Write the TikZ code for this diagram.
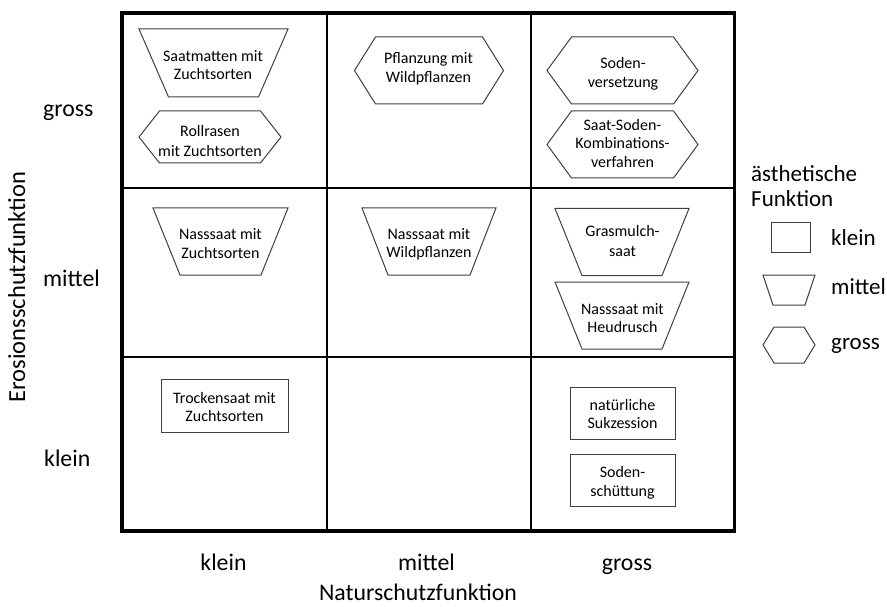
\documentclass[tikz,border=0pt]{standalone}
\usepackage{fontspec}
\setmainfont{Carlito}
\begin{document}
\begin{tikzpicture}[x=1pt,y=-1pt,
  shp/.style={draw=black!75, line width=1pt, line join=miter},
  lbl/.style={font=\fontsize{16}{18.5}\selectfont, align=center, inner sep=0pt},
  big/.style={font=\fontsize{23.8}{27}\selectfont, inner sep=0pt},
  leg/.style={font=\fontsize{23}{27}\selectfont, inner sep=0pt, anchor=base west},
  gridline/.style={line width=1.8pt},
  frameline/.style={line width=3.2pt},
  pics/trap/.style n args={3}{code={\draw[shp] (-#1,-#3)--(#1,-#3)--(#2,#3)--(-#2,#3)--cycle;}},
  pics/hexa/.style n args={3}{code={\draw[shp] (-#1,0)--(-#2,-#3)--(#2,-#3)--(#1,0)--(#2,#3)--(-#2,#3)--cycle;}},
  pics/rbox/.style n args={2}{code={\draw[shp] (-#1,-#2) rectangle (#1,#2);}},
]
\useasboundingbox (0,0) rectangle (887,607);
\fill[white] (0,0) rectangle (887,607);

% grid
\draw[gridline] (327,13)--(327,531) (531,13)--(531,531)
  (122,188)--(734.5,188) (122,357)--(734.5,357);
\draw[frameline] (122,13) rectangle (734.5,531);

% shapes
\pic at (213.5,63) {trap={74.5}{45}{34}};
\pic at (210,137) {hexa={71}{50.5}{26}};
\pic at (429,70.5) {hexa={74.5}{53.5}{33.5}};
\pic at (622.5,70.5) {hexa={75.5}{51}{33.5}};
\pic at (622.5,144.5) {hexa={75.5}{51}{33.5}};
\pic at (220.5,241.5) {trap={67.5}{40.5}{33.5}};
\pic at (429,241.5) {trap={67}{41}{33.5}};
\pic at (622,242) {trap={67}{40}{33.5}};
\pic at (622,315.5) {trap={67}{40}{33.5}};
\pic at (224.5,405.5) {rbox={63.5}{26.5}};
\pic at (622.5,413) {rbox={52.5}{26}};
\pic at (622.5,480) {rbox={52.5}{26}};

% texts in shapes
\node[lbl] (saatmatten) at (213,65) {Saatmatten mit\\Zuchtsorten};
\node[lbl, font=\fontsize{16}{20.5}\selectfont] (rollrasen) at (210,141) {Rollrasen\\mit Zuchtsorten};
\node[lbl] (pflanzung) at (428.5,69) {Pflanzung mit\\Wildpflanzen};
\node[lbl, font=\fontsize{16}{19.5}\selectfont] (sodenvers) at (623,74) {Soden-\\versetzung};
\node[lbl] (saatsoden) at (622.5,143.5) {Saat-Soden-\\Kombinations-\\verfahren};
\node[lbl] (nasszucht) at (220.5,243.5) {Nasssaat mit\\Zuchtsorten};
\node[lbl] (nasswild) at (429,244.5) {Nasssaat mit\\Wildpflanzen};
\node[lbl, font=\fontsize{16}{20}\selectfont] (grasmulch) at (622.5,241.5) {Grasmulch-\\saat};
\node[lbl] (heudrusch) at (622.5,318) {Nasssaat mit\\Heudrusch};
\node[lbl] (trocken) at (224.5,407) {Trockensaat mit\\Zuchtsorten};
\node[lbl] (sukzession) at (622.5,414) {natürliche\\Sukzession};
\node[lbl] (sodenschuett) at (622.5,483) {Soden-\\schüttung};

% axis labels
\node[big, anchor=base west] (ygross) at (43,117) {gross};
\node[big, anchor=base west] (ymittel) at (43,286) {mittel};
\node[big, anchor=base west] (yklein) at (44,466) {klein};
\node[big, font=\fontsize{24.5}{28}\selectfont, anchor=base, rotate=90] (ytitle) at (25,287) {Erosionsschutzfunktion};
\node[big, anchor=base] (xklein) at (223.5,570.5) {klein};
\node[big, anchor=base] (xmittel) at (426.5,570.5) {mittel};
\node[big, anchor=base] (xgross) at (627,570.5) {gross};
\node[big, anchor=base] (xtitle) at (418,600.5) {Naturschutzfunktion};

% legend
\node[leg] (legtitle1) at (751,181.5) {ästhetische};
\node[leg] (legtitle2) at (751,206.5) {Funktion};
\pic at (790.5,237.5) {rbox={19.5}{14.5}};
\pic at (789,290) {trap={26}{16}{15}};
\pic at (789,345) {hexa={26}{15}{18}};
\node[leg] (legklein) at (831,245) {klein};
\node[leg] (legmittel) at (831,294) {mittel};
\node[leg] (leggross) at (831,349) {gross};
\end{tikzpicture}
\end{document}
